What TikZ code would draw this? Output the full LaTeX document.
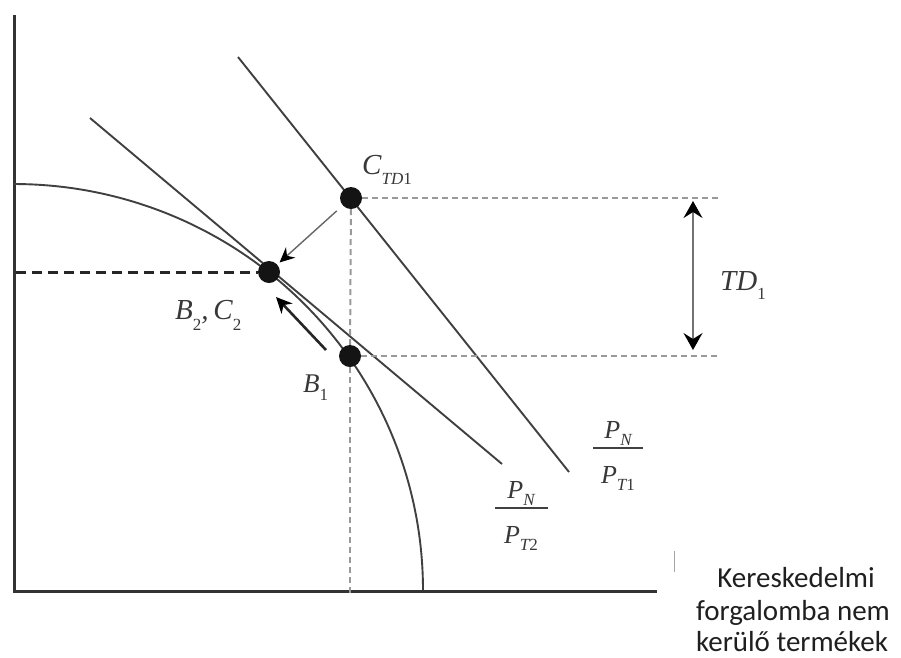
\documentclass[tikz,border=0pt]{standalone}
\usepackage{fontspec}
\setmainfont{Liberation Serif}
\newfontfamily\hufont{Carlito}
\usetikzlibrary{arrows.meta}
\newcommand{\lsub}[2][9pt]{\raisebox{-#1}{\fontsize{17}{17}\selectfont #2}}
\tikzset{
  axisline/.style={line width=3pt, draw=black!80},
  curveline/.style={line width=1.9pt, draw=black!75},
  dot/.style={circle, fill=black!92, minimum size=22pt, inner sep=0pt},
  guide/.style={draw=black!40, line width=2pt, dash pattern=on 6pt off 4pt},
  bdash/.style={draw=black!85, line width=3pt, dash pattern=on 10pt off 6pt},
  lbl/.style={inner sep=0pt, text=black!78, font=\fontsize{29}{30}\selectfont\itshape},
  fraclbl/.style={inner sep=0pt, text=black!78, font=\fontsize{26}{28}\selectfont\itshape},
  hutext/.style={inner sep=0pt, text=black!88, font=\hufont\fontsize{29}{33}\selectfont},
  thinarrow/.style={draw=black!60, line width=1.4pt, -{Stealth[length=15pt,width=14pt,inset=5pt,color=black]}},
  thickarrow/.style={draw=black!85, line width=2.6pt, -{Stealth[length=16pt,width=15pt,inset=5pt,color=black]}},
  dblarrow/.style={draw=black!55, line width=1.5pt, {Stealth[length=17pt,width=19pt,inset=6pt,color=black]}-{Stealth[length=17pt,width=19pt,inset=6pt,color=black]}},
  fracbar/.style={draw=black!75, line width=1.8pt}
}
\begin{document}
\begin{tikzpicture}[x=1pt,y=-1pt]
\useasboundingbox (0,0) rectangle (901,657);
% axes
\coordinate (O) at (14,591);
\coordinate (ytop) at (14,15);
\coordinate (xend) at (657,591);
\draw[axisline] (ytop) -- (O) -- (xend);
\draw[draw=black!35, line width=0.7pt] (674,551) -- (674,572);
% production possibility curve
\draw[curveline] plot[domain=0:90, samples=80, smooth] ({14+409*cos(\x)},{590-406*sin(\x)});
% price lines
\coordinate (l1a) at (238,57);
\coordinate (l1b) at (569,472);
\coordinate (l2a) at (90,118);
\coordinate (l2b) at (502,464);
\draw[curveline] (l1a) -- (l1b);
\draw[curveline] (l2a) -- (l2b);
% points
\node[dot] (C) at (351,198) {};
\node[dot] (B2) at (269,272) {};
\node[dot] (B1) at (350,356) {};
% guides
\coordinate (gC) at (718,198);
\coordinate (gB) at (718,356);
\coordinate (gV) at (350,597);
\coordinate (yB2) at (16,272);
\draw[guide] (C) -- (gC);
\draw[guide] (B1) -- (gB);
\draw[guide] (C) -- (B1);
\draw[guide] (B1) -- (gV);
\draw[bdash] (yB2) -- (B2);
% arrows
\draw[thinarrow, shorten <=8pt, shorten >=3pt] (C) -- (B2);
\coordinate (a1s) at (326,350);
\coordinate (a1e) at (276,297);
\draw[thickarrow] (a1s) -- (a1e);
\coordinate (td1) at (693,201);
\coordinate (td2) at (693,350);
\draw[dblarrow] (td1) -- (td2);
% labels
\node[lbl, anchor=base west] (lC) at (362,174) {C\lsub[10pt]{\itshape TD\upshape 1}};
\node[lbl, anchor=base west] (lB2) at (175,319) {B\lsub[11pt]{\upshape 2},\,C\lsub[11pt]{\upshape 2}};
\node[lbl, anchor=base west, font=\fontsize{27}{28}\selectfont\itshape] (lB1) at (303,392) {B\lsub[8pt]{\upshape 1}};
\node[lbl, anchor=base west] (lTD) at (720,290) {TD\lsub[9pt]{\upshape 1}};
% fraction 1
\node[fraclbl, anchor=base] (f1n) at (618,438) {P\lsub[7pt]{\itshape N}};
\coordinate (f1l) at (593,448);
\coordinate (f1r) at (643,448);
\draw[fracbar] (f1l) -- (f1r);
\node[fraclbl, anchor=base] (f1d) at (618,483) {P\lsub[7pt]{\itshape T\upshape 1}};
% fraction 2
\node[fraclbl, anchor=base] (f2n) at (521,498) {P\lsub[7pt]{\itshape N}};
\coordinate (f2l) at (495,508);
\coordinate (f2r) at (548,508);
\draw[fracbar] (f2l) -- (f2r);
\node[fraclbl, anchor=base] (f2d) at (521,543) {P\lsub[7pt]{\itshape T\upshape 2}};
% axis caption
\node[hutext, anchor=base] (t1) at (796,587) {Kereskedelmi};
\node[hutext, anchor=base] (t2) at (793,620) {forgalomba nem};
\node[hutext, anchor=base] (t3) at (792,651) {kerülő termékek};
\end{tikzpicture}
\end{document}
